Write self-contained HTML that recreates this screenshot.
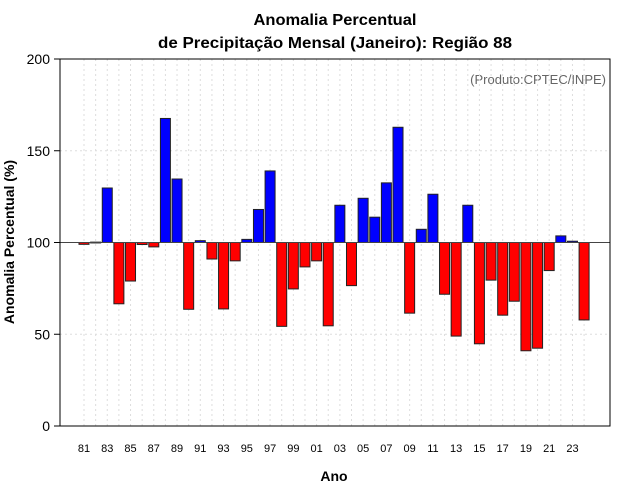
<!DOCTYPE html>
<html><head><meta charset="utf-8"><style>
html,body{margin:0;padding:0;background:#fff}
svg{display:block;font-family:"Liberation Sans",Arial,sans-serif}
</style></head><body>
<svg id="chart" width="640" height="500" viewBox="0 0 640 500">
<rect width="640" height="500" fill="#fff"/>
<text x="335" y="25" text-anchor="middle" font-size="16" font-weight="bold" textLength="163" lengthAdjust="spacingAndGlyphs">Anomalia Percentual</text>
<text x="335" y="48" text-anchor="middle" font-size="16" font-weight="bold" textLength="354" lengthAdjust="spacingAndGlyphs">de Precipitação Mensal (Janeiro): Região 88</text>
<text x="606" y="84" text-anchor="end" font-size="13" fill="#666">(Produto:CPTEC/INPE)</text>
<text x="334" y="481" text-anchor="middle" font-size="14" font-weight="bold">Ano</text>
<text transform="translate(14,242) rotate(-90)" text-anchor="middle" font-size="14" font-weight="bold">Anomalia Percentual (%)</text>
<g id="grid"></g>
<g id="bars"></g>
<g id="axes"></g>
</svg>
<script>
const years = [81,82,83,84,85,86,87,88,89,90,91,92,93,94,95,96,97,98,99,0,1,2,3,4,5,6,7,8,9,10,11,12,13,14,15,16,17,18,19,20,21,22,23,24];
const values = [99,100.2,129.7,66.6,79,98.9,97.6,167.6,134.6,63.6,101,91,63.8,90,101.7,118,139,54.3,74.7,86.7,90,54.6,120.3,76.5,124.1,113.8,132.5,162.8,61.5,107.2,126.3,71.8,49,120.3,44.8,79.5,60.4,68,41,42.4,84.7,103.6,100.7,57.8];
const yTicks = [0,50,100,150,200];
const NS="http://www.w3.org/2000/svg";
const L=60,R=610,T=59,B=426;
function y(v){return B-(v/200)*(B-T);}
function x(i){return 84+i*11.63;}
function mk(tag,attrs,parent){const e=document.createElementNS(NS,tag);for(const k in attrs)e.setAttribute(k,attrs[k]);parent.appendChild(e);return e;}
const grid=document.getElementById('grid'),bars=document.getElementById('bars'),axes=document.getElementById('axes');
years.forEach((yr,i)=>{
  const g=mk('line',{x1:x(i),x2:x(i),y1:T,y2:B,stroke:'#ddd','stroke-dasharray':'2,3'},grid);
  
  
});
yTicks.forEach(t=>{
  if(t>0&&t<200){const g=mk('line',{x1:L,x2:R,y1:y(t),y2:y(t),stroke:'#ddd','stroke-dasharray':'2,3'},grid);
  
  }
  const tk=mk('line',{x1:L-6,x2:L,y1:y(t),y2:y(t),stroke:'#000'},axes);
  
  
  const lb=mk('text',{x:L-10,y:y(t)+5,'text-anchor':'end','font-size':'14'},axes);
  lb.textContent=t;
  
  
});
values.forEach((v,i)=>{
  const top=Math.min(y(v),y(100)),h=Math.abs(y(v)-y(100));
  const r=mk('rect',{x:x(i)-5,y:top,width:10,height:Math.max(h,0.8),fill:v>=100?'#0000ff':'#ff0000',stroke:'#222','stroke-width':'1'},bars);
  
  
  if(i%2===0){
    const lb=mk('text',{x:x(i),y:452,'text-anchor':'middle','font-size':'11'},axes);
    lb.textContent=String(years[i]).padStart(2,'0');
    
    
  }
});
const ref=mk('line',{x1:L,x2:R,y1:y(100),y2:y(100),stroke:'#444','stroke-width':'1'},axes);


const box=mk('rect',{x:L,y:T,width:R-L,height:B-T,fill:'none',stroke:'#000'},axes);


</script>
</body></html>
